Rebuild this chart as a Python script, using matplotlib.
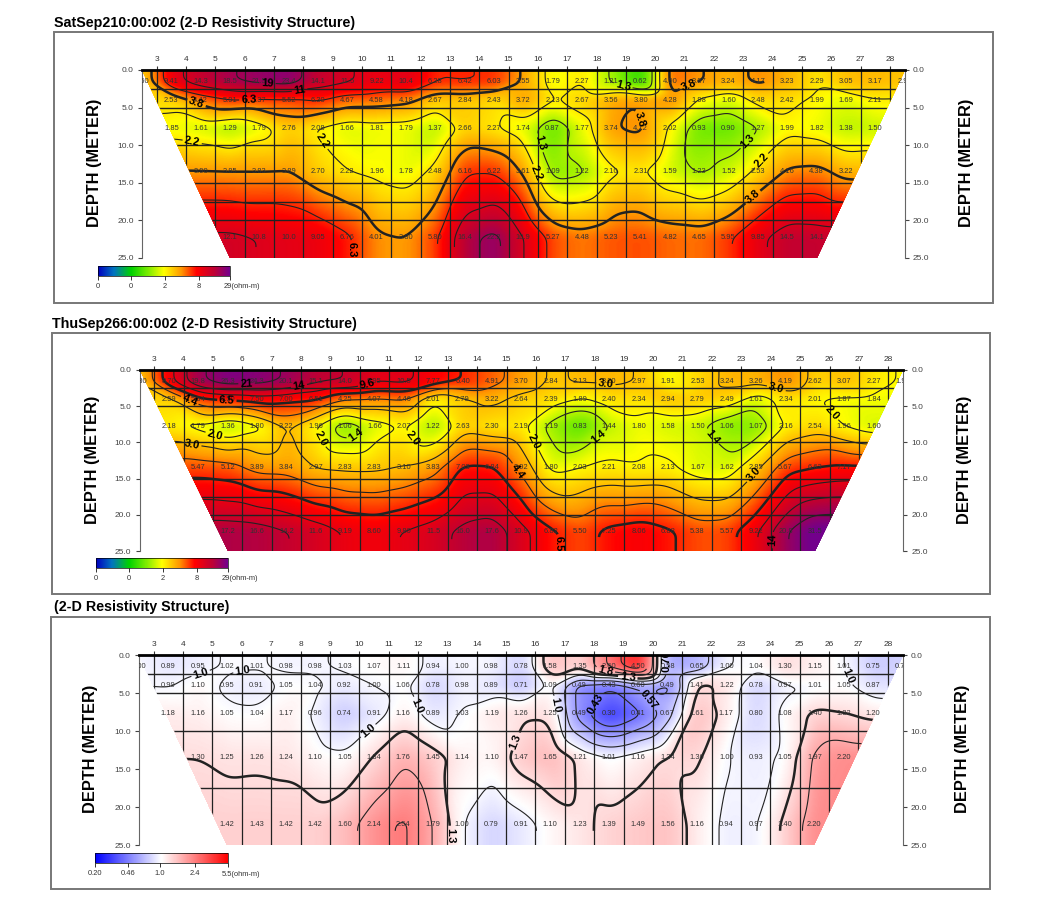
import numpy as np
from matplotlib import pyplot as plt
from matplotlib import tri
from matplotlib.cm import ScalarMappable
from matplotlib.colors import LinearSegmentedColormap, LogNorm
from matplotlib.patches import Polygon, Rectangle

plt.rcParams['font.family'] = ['Liberation Sans', 'DejaVu Sans']

W, H = 1048, 906
electrodes = list(range(3, 29))
depth_ticks = [0, 5, 10, 15, 20, 25]
row_depths = [1.55, 4.05, 7.75, 13.5, 22.25]
row_starts = [2.5, 3.5, 3.5, 4.5, 5.5]

# values, one list for each row of numbers
sat_r1 = [2.60, 9.41, 14.3, 18.5, 21.5, 23.4, 14.1, 11.5, 9.22, 10.4, 6.28, 6.42, 6.03, 3.55, 1.79, 2.27, 1.21, 0.62, 4.90, 3.87, 3.24, 4.17, 3.23, 2.29, 3.05, 3.17, 2.90]
sat_r2 = [2.53, 4.42, 5.91, 5.37, 5.52, 6.30, 4.67, 4.58, 4.18, 2.67, 2.84, 2.43, 3.72, 2.13, 2.67, 3.56, 3.80, 4.28, 1.98, 1.60, 2.48, 2.42, 1.99, 1.69, 2.11]
sat_r3 = [1.85, 1.61, 1.29, 1.79, 2.76, 2.08, 1.66, 1.81, 1.79, 1.37, 2.66, 2.27, 1.74, 0.87, 1.77, 3.74, 4.12, 2.02, 0.93, 0.90, 1.27, 1.99, 1.82, 1.38, 1.50]
sat_r4 = [3.90, 3.85, 3.83, 3.89, 2.70, 2.22, 1.96, 1.78, 2.48, 6.16, 6.22, 3.61, 1.09, 1.22, 2.10, 2.31, 1.59, 1.23, 1.52, 2.53, 4.16, 4.38, 3.22]
sat_r5 = [12.1, 10.8, 10.0, 9.05, 6.76, 4.01, 3.80, 5.80, 16.4, 22.2, 10.9, 5.27, 4.48, 5.23, 5.41, 4.82, 4.65, 5.95, 9.85, 14.5, 14.1]

thu_r1 = [2.80, 8.70, 19.8, 26.3, 24.3, 20.1, 15.1, 14.0, 9.95, 10.5, 7.77, 6.40, 4.91, 3.70, 2.84, 3.13, 3.20, 2.97, 1.91, 2.53, 3.24, 3.26, 4.19, 2.62, 3.07, 2.27, 1.90]
thu_r2 = [2.59, 5.64, 6.50, 7.50, 7.00, 6.51, 4.25, 4.07, 4.46, 2.01, 2.79, 3.22, 2.64, 2.39, 1.89, 2.40, 2.34, 2.94, 2.79, 2.49, 1.61, 2.34, 2.01, 1.87, 1.84]
thu_r3 = [2.18, 1.79, 1.36, 1.80, 3.22, 1.96, 1.06, 1.66, 2.07, 1.22, 2.63, 2.30, 2.19, 1.19, 0.83, 1.44, 1.80, 1.58, 1.50, 1.06, 1.07, 2.16, 2.54, 1.96, 1.60]
thu_r4 = [5.47, 5.12, 3.89, 3.84, 2.97, 2.83, 2.83, 3.10, 3.83, 7.03, 6.84, 3.92, 1.80, 2.03, 2.21, 2.08, 2.13, 1.67, 1.62, 2.85, 5.67, 6.63, 7.17]
thu_r5 = [17.2, 16.6, 14.2, 11.6, 9.19, 8.60, 9.80, 11.5, 16.0, 17.6, 10.9, 6.82, 5.50, 7.25, 8.06, 6.88, 5.38, 5.57, 9.22, 20.8, 31.5]

dif_r1 = [1.00, 0.89, 0.95, 1.02, 1.01, 0.98, 0.98, 1.03, 1.07, 1.11, 0.94, 1.00, 0.98, 0.78, 1.58, 1.35, 2.60, 4.50, 0.58, 0.65, 1.00, 1.04, 1.30, 1.15, 1.01, 0.75, 0.78]
dif_r2 = [0.99, 1.10, 0.95, 0.91, 1.05, 1.04, 0.92, 1.00, 1.06, 0.78, 0.98, 0.89, 0.71, 1.09, 0.49, 0.43, 0.60, 0.49, 1.41, 1.22, 0.78, 0.97, 1.01, 1.05, 0.87]
dif_r3 = [1.18, 1.16, 1.05, 1.04, 1.17, 0.96, 0.74, 0.91, 1.16, 0.89, 1.03, 1.19, 1.26, 1.25, 0.49, 0.30, 0.41, 0.67, 1.61, 1.17, 0.80, 1.08, 1.40, 1.32, 1.20]
dif_r4 = [1.30, 1.25, 1.26, 1.24, 1.10, 1.05, 1.34, 1.76, 1.45, 1.14, 1.10, 1.47, 1.65, 1.21, 1.01, 1.16, 1.34, 1.36, 1.00, 0.93, 1.05, 1.97, 2.20]
dif_r5 = [1.42, 1.43, 1.42, 1.42, 1.60, 2.14, 2.54, 1.79, 1.00, 0.79, 0.91, 1.10, 1.23, 1.39, 1.49, 1.56, 1.16, 0.94, 0.97, 1.40, 2.20]

sat_levels = [1.3, 2.2, 3.8, 6.3, 11, 19]
thu_levels = [1.4, 2.0, 3.0, 4.4, 6.5, 9.6, 14, 21]
dif_levels = [0.43, 0.57, 0.76, 1.0, 1.3, 1.8, 2.4, 3.2, 4.2]

res_ticks = [0.13, 0.5, 2, 8, 29]
res_labels = ['0', '0', '2', '8']
dif_ticks = [0.2, 0.46, 1.0, 2.4, 5.5]
dif_labels = ['0.20', '0.46', '1.0', '2.4']

res_cmap = LinearSegmentedColormap.from_list('res', [
    (0.0, (0, 0, 0.75)), (0.12, (0, 0.45, 0.75)), (0.25, (0, 0.82, 0)),
    (0.37, (0.45, 0.92, 0)), (0.5, (1, 1, 0)), (0.63, (1, 0.6, 0)),
    (0.75, (1, 0, 0)), (0.88, (0.75, 0, 0.2)), (1.0, (0.45, 0, 0.55))])
dif_cmap = LinearSegmentedColormap.from_list('dif', [(0, 0, 1), (1, 1, 1), (1, 0, 0)])


def px_axes(x0, y0, x1, y1):
    return fig.add_axes([x0 / W, 1 - y1 / H, (x1 - x0) / W, (y1 - y0) / H])


def smooth(a, n, axis):
    k = np.ones(n) / n
    pad = [(n, n) if i == axis else (0, 0) for i in range(2)]
    b = np.pad(a, pad, mode='edge')
    for _ in range(2):
        b = np.apply_along_axis(lambda r: np.convolve(r, k, mode='same'), axis, b)
    return b[n:-n, :] if axis == 0 else b[:, n:-n]


def field(rows):
    xs, zs, vals = [], [], []
    for depth, start, row in zip(row_depths, row_starts, rows):
        x = [start + i for i in range(len(row))]
        # repeat the end values outwards so the whole section is covered
        xs += [start - 3, start - 1.5] + x + [x[-1] + 1.5, x[-1] + 3]
        zs += [depth] * (len(row) + 4)
        vals += [row[0], row[0]] + row + [row[-1], row[-1]]
    for depth, start, row in [(-1.5, row_starts[0], rows[0]), (27, row_starts[4], rows[4])]:
        x = [start + i for i in range(len(row))]
        xs += [start - 3, start - 1.5] + x + [x[-1] + 1.5, x[-1] + 3]
        zs += [depth] * (len(row) + 4)
        vals += [row[0], row[0]] + row + [row[-1], row[-1]]
    t = tri.Triangulation(xs, zs)
    interp = tri.LinearTriInterpolator(t, np.log10(vals))
    gx, gz = np.meshgrid(np.linspace(2.5, 28.5, 700), np.linspace(0, 25, 300))
    log_v = np.ma.filled(interp(gx, gz), 0.0)
    log_v = smooth(smooth(log_v, 14, 1), 14, 0)
    return gx, gz, 10 ** log_v


def level_text(v):
    if v < 1:
        return '%.2f' % v
    return '%.1f' % v if v < 10 else '%.0f' % v


def draw_panel(rows, box, frame, title, title_xy, cmap, norm, levels, thick,
               cbar_box, ticks, tick_labels, unit, depth_x, skip_lines):
    fig.add_artist(Rectangle((frame[0] / W, 1 - frame[3] / H), (frame[2] - frame[0]) / W,
                             (frame[3] - frame[1]) / H, fill=False, ec='#777777', lw=1.4,
                             transform=fig.transFigure))
    fig.text(title_xy[0] / W, 1 - title_xy[1] / H, title, fontsize=10.3, fontweight='bold',
             va='center', ha='left')

    ax = px_axes(*box)
    ax.set_xlim(2.5, 28.5)
    ax.set_ylim(25, 0)
    section = Polygon([(2.5, 0), (28.5, 0), (25.5, 25), (5.5, 25)], transform=ax.transData, fill=False, ec='none')
    ax.add_patch(section)

    gx, gz, gv = field(rows)
    mesh = ax.pcolormesh(gx, gz, gv, cmap=cmap, norm=norm, shading='gouraud', rasterized=True)
    mesh.set_clip_path(section)

    for y in [2.5, 5, 10, 15, 17.5, 20]:
        if y not in skip_lines:
            ax.axhline(y, color='#222222', lw=1.0).set_clip_path(section)
    for x in electrodes:
        ax.axvline(x, color='#222222', lw=0.9).set_clip_path(section)

    # contour only inside the section, labels then stay on the coloured part
    outside = (gx < 2.5 + 3 * gz / 25 - 0.05) | (gx > 28.5 - 3 * gz / 25 + 0.05)
    widths = [1.8 if lv == thick else 0.8 for lv in levels]
    cs = ax.contour(gx, gz, np.ma.masked_where(outside, gv), levels=levels, colors='#222222', linewidths=widths)
    cs.set_clip_path(section)
    labels = ax.clabel(cs, fmt=level_text, fontsize=8, inline_spacing=2, colors='black')
    for lab in list(labels):
        lab.set_fontweight('bold')
        x, z = lab.get_position()
        edge = 2.5 + 3 * z / 25
        if z < 0.8 or z > 24 or x < edge + 0.5 or x > 31 - edge - 0.5:
            lab.remove()

    for depth, start, row in zip(row_depths, row_starts, rows):
        for i, v in enumerate(row):
            s = '%.1f' % v if v >= 10 else '%.2f' % v
            t = ax.text(start + i, depth, s, fontsize=5.4, color='#333333', ha='center', va='center')
            t.set_clip_on(True)
            t.set_clip_path(section)

    ax.xaxis.tick_top()
    ax.set_xticks(electrodes)
    ax.set_yticks(depth_ticks)
    ax.set_yticklabels(['%.1f' % d for d in depth_ticks])
    ax.tick_params(axis='x', labelsize=6, length=3, width=0.8, pad=2, colors='#333333')
    ax.tick_params(axis='y', labelsize=6, length=3, width=0.8, pad=3, colors='#444444',
                   left=True, right=True, labelleft=True, labelright=True)
    ax.spines['bottom'].set_visible(False)
    ax.spines['top'].set_linewidth(2)
    ax.spines['left'].set_color('#666666')
    ax.spines['right'].set_color('#666666')

    mid = (box[1] + box[3]) / 2 - 1
    for x in depth_x:
        fig.text(x / W, 1 - mid / H, 'DEPTH (METER)', fontsize=11.8, fontweight='bold',
                 rotation=90, ha='center', va='center')

    cax = px_axes(*cbar_box)
    cb = fig.colorbar(ScalarMappable(norm=norm, cmap=cmap), cax=cax, orientation='horizontal')
    cb.minorticks_off()
    cb.set_ticks(ticks, labels=tick_labels + [''])
    cb.ax.tick_params(labelsize=5.4, length=3, width=0.7, pad=2, colors='#333333')
    cb.outline.set_linewidth(0.5)
    fig.text((cbar_box[2] - 6) / W, 1 - (cbar_box[3] + 11) / H, unit, fontsize=5.4, color='#333333',
             ha='left', va='center')


fig = plt.figure(figsize=(W / 100, H / 100), dpi=100)

res_norm = LogNorm(0.13, 29)
dif_norm = LogNorm(0.2, 5.5)

draw_panel([sat_r1, sat_r2, sat_r3, sat_r4, sat_r5], (142, 70, 904.5, 258), (54, 32, 993, 303),
           'SatSep210:00:002 (2-D Resistivity Structure)', (54, 23), res_cmap, res_norm,
           sat_levels, 3.8, (98, 266, 230, 276), res_ticks, res_labels, '29(ohm-m)', (94, 966), [])
draw_panel([thu_r1, thu_r2, thu_r3, thu_r4, thu_r5], (139.5, 370, 903, 551), (52, 333, 990, 594),
           'ThuSep266:00:002 (2-D Resistivity Structure)', (52, 324), res_cmap, res_norm,
           thu_levels, 6.5, (96, 558, 228, 568), res_ticks, res_labels, '29(ohm-m)', (92, 964), [])
draw_panel([dif_r1, dif_r2, dif_r3, dif_r4, dif_r5], (139, 655, 902.5, 845), (51, 617, 990, 889),
           '(2-D Resistivity Structure)', (54, 607), dif_cmap, dif_norm,
           dif_levels, 1.3, (95, 853, 228, 863), dif_ticks, dif_labels, '5.5(ohm-m)', (90, 963), [15, 20])

plt.savefig('out.png', dpi=100)
